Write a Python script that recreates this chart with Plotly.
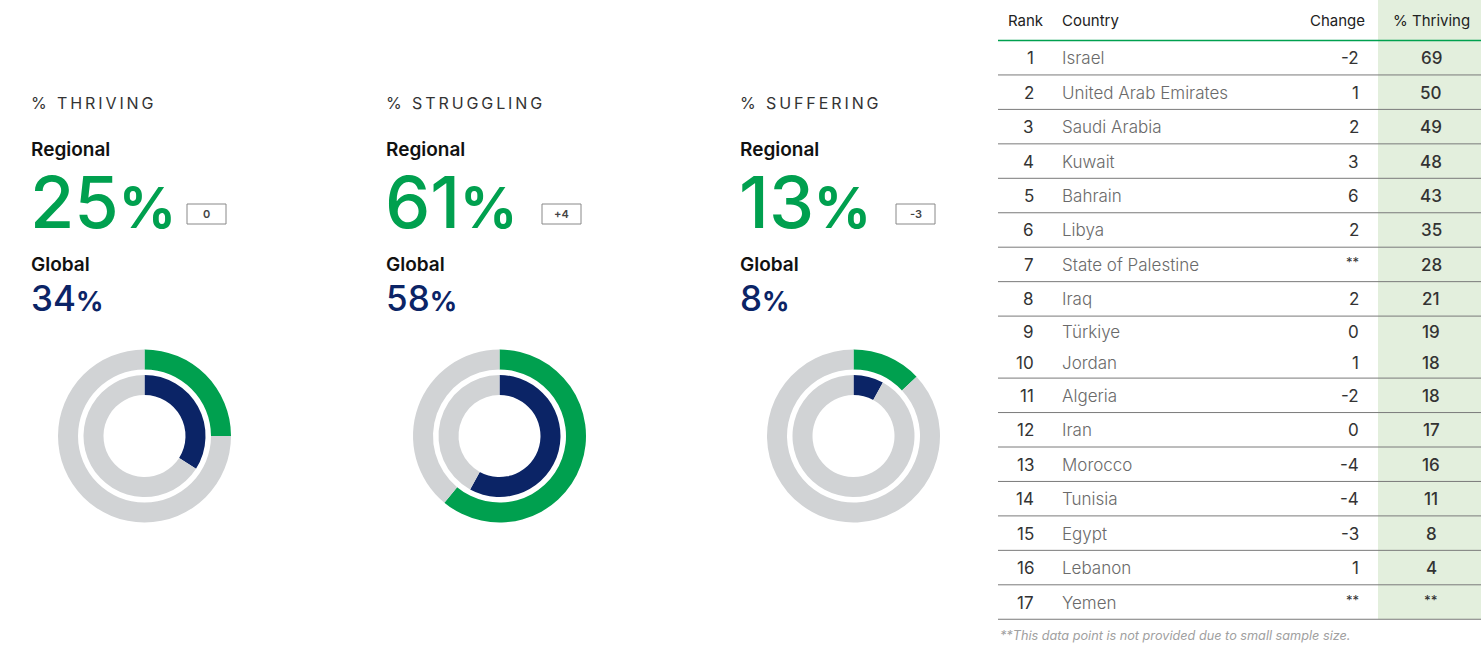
import plotly.graph_objects as go

W, H = 1481, 648

# ---------------- data ----------------
metric_titles = ["% THRIVING", "% STRUGGLING", "% SUFFERING"]
regional_pct = [25, 61, 13]
global_pct = [34, 58, 8]
regional_change = ["0", "+4", "-3"]

ranks = list(range(1, 18))
countries = ["Israel", "United Arab Emirates", "Saudi Arabia", "Kuwait", "Bahrain",
             "Libya", "State of Palestine", "Iraq", "Türkiye", "Jordan", "Algeria",
             "Iran", "Morocco", "Tunisia", "Egypt", "Lebanon", "Yemen"]
country_change = ["-2", "1", "2", "3", "6", "2", "**", "2", "0", "1", "-2", "0",
                  "-4", "-4", "-3", "1", "**"]
pct_thriving = ["69", "50", "49", "48", "43", "35", "28", "21", "19", "18", "18",
                "17", "16", "11", "8", "4", "**"]
footnote = "**This data point is not provided due to small sample size."

# ---------------- style ----------------
GREEN = "#00a04f"
NAVY = "#0b2466"
GREY = "#d1d3d5"
FONT = "Inter"
LS = "\u2009"  # thin space for letter spacing

fig = go.Figure()

panel_x = [31, 386, 740]
ring_cy = 436
outer_r, outer_in = 86.5, 66.5
inner_r, inner_in = 61, 41

annotations = []
shapes = []


def dom(cx, cy, r):
    return dict(x=[(cx - r) / W, (cx + r) / W], y=[1 - (cy + r) / H, 1 - (cy - r) / H])


for i, px in enumerate(panel_x):
    cx = px + 113.5
    fig.add_trace(go.Pie(values=[regional_pct[i], 100 - regional_pct[i]], sort=False,
                         direction="clockwise", rotation=0, hole=outer_in / outer_r,
                         marker=dict(colors=[GREEN, GREY], line=dict(width=0)),
                         textinfo="none", hoverinfo="skip", showlegend=False,
                         domain=dom(cx, ring_cy, outer_r)))
    fig.add_trace(go.Pie(values=[global_pct[i], 100 - global_pct[i]], sort=False,
                         direction="clockwise", rotation=0, hole=inner_in / inner_r,
                         marker=dict(colors=[NAVY, GREY], line=dict(width=0)),
                         textinfo="none", hoverinfo="skip", showlegend=False,
                         domain=dom(cx, ring_cy, inner_r)))
    title = LS.join(list(metric_titles[i]))
    annotations += [
        dict(x=px - 2, y=103, text=title, xanchor="left", yanchor="middle",
             font=dict(family=FONT, size=16, color="#333333")),
        dict(x=px - 2, y=149, text="Regional", xanchor="left", yanchor="middle",
             font=dict(family=FONT, size=19, color="#111111", weight=600)),
        dict(x=px - 3, y=201, height=62,
             text=f"{regional_pct[i]}<span style='font-size:56px;font-weight:700'>%</span>",
             xanchor="left", yanchor="middle",
             font=dict(family=FONT, size=72, color=GREEN, weight=500)),
        dict(x=px + 175.5, y=214, text=regional_change[i], xanchor="center", yanchor="middle",
             font=dict(family=FONT, size=11, color="#444444", weight=600)),
        dict(x=px - 2, y=264, text="Global", xanchor="left", yanchor="middle",
             font=dict(family=FONT, size=19, color="#111111", weight=600)),
        dict(x=px - 2, y=298, text=f"{global_pct[i]}<span style='font-size:27px;font-weight:700'>%</span>",
             xanchor="left", yanchor="middle",
             font=dict(family=FONT, size=35, color=NAVY, weight=500)),
    ]
    shapes.append(dict(type="rect", xref="x", yref="y", x0=px + 156, x1=px + 195,
                       y0=204, y1=224, line=dict(color="#888888", width=1),
                       fillcolor="white"))

# ---------------- table ----------------
T_LEFT, T_RIGHT = 998, W
COL_RANK_R, COL_COUNTRY_L, COL_CHANGE_R = 1036, 1060, 1361
COL_THR_L, COL_THR_C = 1378, 1431
header_line = 40.5
normal_h, tight_h = 34.45, 31.0
tight_rows = {9, 10}   # rows 9 and 10 share one band in the source

row_tops = []
y = header_line
for r in ranks:
    row_tops.append(y)
    y += tight_h if r in tight_rows else normal_h
table_bottom = y

shapes.append(dict(type="rect", xref="x", yref="y", x0=COL_THR_L, x1=T_RIGHT, y0=0,
                   y1=table_bottom, fillcolor="#e3efdd", line=dict(width=0), layer="below"))
shapes.append(dict(type="line", xref="x", yref="y", x0=T_LEFT, x1=T_RIGHT,
                   y0=header_line, y1=header_line, line=dict(color=GREEN, width=1.5)))

hdr_font = dict(family=FONT, size=15, color="#222222")
annotations += [
    dict(x=1026, y=20, text="Rank", xanchor="center", yanchor="middle", font=hdr_font),
    dict(x=COL_COUNTRY_L, y=20, text="Country", xanchor="left", yanchor="middle", font=hdr_font),
    dict(x=1367, y=20, text="Change", xanchor="right", yanchor="middle", font=hdr_font),
    dict(x=COL_THR_C, y=20, text="% Thriving", xanchor="center", yanchor="middle", font=hdr_font),
]

for idx, r in enumerate(ranks):
    top = row_tops[idx]
    h = tight_h if r in tight_rows else normal_h
    yc = top + h / 2 + 0.5
    annotations += [
        dict(x=COL_RANK_R, y=yc, text=str(r), xanchor="right", yanchor="middle",
             font=dict(family=FONT, size=17, color="#333333", weight=400)),
        dict(x=COL_COUNTRY_L, y=yc, text=countries[idx], xanchor="left", yanchor="middle",
             font=dict(family=FONT, size=17, color="#6a6a6a", weight=300)),
        dict(x=COL_CHANGE_R, y=yc - (3 if country_change[idx] == "**" else 0),
             text=country_change[idx], xanchor="right", yanchor="middle",
             font=dict(family=FONT, size=17 if country_change[idx] != "**" else 13,
                       color="#333333", weight=400)),
        dict(x=COL_THR_C, y=yc - (3 if pct_thriving[idx] == "**" else 0),
             text=pct_thriving[idx], xanchor="center", yanchor="middle",
             font=dict(family=FONT, size=17 if pct_thriving[idx] != "**" else 13,
                       color="#333333", weight=500)),
    ]
    if r != 9:
        yb = top + h
        shapes.append(dict(type="line", xref="x", yref="y", x0=T_LEFT, x1=T_RIGHT,
                           y0=yb, y1=yb, line=dict(color="#7a7a7a", width=1)))

annotations.append(dict(x=998, y=635, text=f"<i>{footnote}</i>", xanchor="left",
                        yanchor="middle", font=dict(family=FONT, size=12.7, color="#a0a0a0")))

for a in annotations:
    a.setdefault("xref", "x")
    a.setdefault("yref", "y")
    a["showarrow"] = False

fig.update_layout(
    width=W, height=H, margin=dict(l=0, r=0, t=0, b=0),
    paper_bgcolor="white", plot_bgcolor="white",
    xaxis=dict(range=[0, W], visible=False, fixedrange=True, domain=[0, 1]),
    yaxis=dict(range=[H, 0], visible=False, fixedrange=True, domain=[0, 1]),
    annotations=annotations, shapes=shapes,
)

fig.write_html("out.html", config={"displayModeBar": False},
               post_script="document.body.style.margin='0';")
